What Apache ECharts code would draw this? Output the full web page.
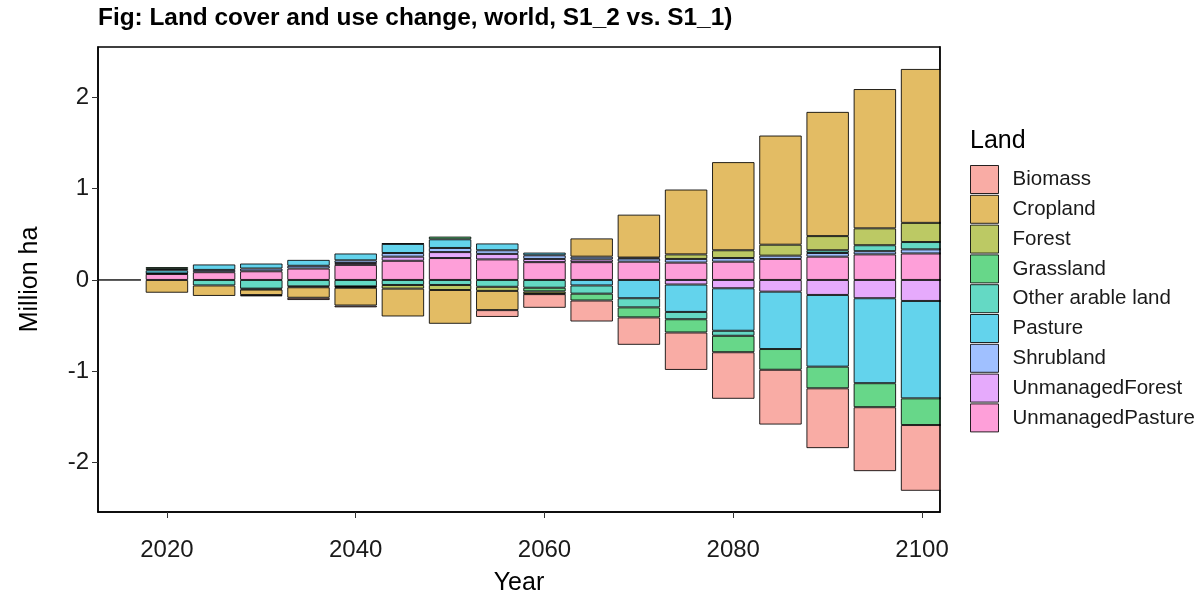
<!DOCTYPE html>
<html>
<head>
<meta charset="utf-8">
<script src="https://cdn.jsdelivr.net/npm/echarts@6/dist/echarts.min.js"></script>
<style>
  html, body { margin: 0; padding: 0; background: #fff; }
  #main { width: 1204px; height: 597px; }
</style>
</head>
<body>
<div id="main"></div>
<script>
// years on the x axis (2015 is an empty bar, drawn as a flat line)
const years = [2015, 2020, 2025, 2030, 2035, 2040, 2045, 2050, 2055, 2060, 2065, 2070, 2075, 2080, 2085, 2090, 2095, 2100]

// change in million ha
const biomass = [0, 0, 0, -0.015, -0.025, -0.02, 0, 0, -0.075, -0.15, -0.23, -0.3, -0.41, -0.51, -0.6, -0.655, -0.7, -0.72]
const cropland = [0, -0.14, -0.115, -0.06, -0.115, -0.195, -0.305, -0.37, -0.21, -0.005, 0.2, 0.47, 0.71, 0.965, 1.195, 1.36, 1.525, 1.685]
const forest = [0, 0, 0, 0, 0, -0.01, -0.04, -0.055, -0.045, -0.025, 0, 0.01, 0.05, 0.085, 0.12, 0.155, 0.185, 0.21]
const grassland = [0, 0.02, 0, -0.01, -0.01, -0.005, 0.005, 0.03, 0, -0.04, -0.075, -0.11, -0.145, -0.18, -0.227, -0.237, -0.263, -0.292]
const otherArable = [0, 0.015, -0.06, -0.095, -0.07, -0.07, -0.055, -0.055, -0.075, -0.085, -0.09, -0.1, -0.08, -0.055, 0, 0.03, 0.065, 0.08]
const pasture = [0, 0.035, 0.06, 0.055, 0.065, 0.075, 0.1, 0.095, 0.075, 0.03, -0.06, -0.2, -0.3, -0.465, -0.628, -0.785, -0.93, -1.066]
const shrubland = [0, 0.005, 0.025, 0.03, 0.03, 0.03, 0.04, 0.045, 0.04, 0.04, 0.03, 0.035, 0.04, 0.04, 0.036, 0.04, 0.035, 0.045]
const unmanagedForest = [0, 0, 0, 0, 0, 0.02, 0.045, 0.065, 0.06, 0.035, 0.03, 0, -0.05, -0.091, -0.128, -0.164, -0.2, -0.23]
const unmanagedPasture = [0, 0.066, 0.085, 0.095, 0.125, 0.165, 0.21, 0.24, 0.225, 0.195, 0.195, 0.2, 0.19, 0.2, 0.23, 0.255, 0.28, 0.29]

const xTicks = [2020, 2040, 2060, 2080, 2100]
const yTicks = [-2, -1, 0, 1, 2]

// legend order (top to bottom)
const landNames = ['Biomass', 'Cropland', 'Forest', 'Grassland', 'Other arable land', 'Pasture', 'Shrubland', 'UnmanagedForest', 'UnmanagedPasture']
const landColors = ['#F9ACA5', '#E3BC64', '#BCC964', '#67D789', '#64D9C4', '#63D3EC', '#A0C0FF', '#E6AAFC', '#FE9FD9']

// stacking order from zero outward
const stackOrder = [
  ['UnmanagedPasture', unmanagedPasture],
  ['UnmanagedForest', unmanagedForest],
  ['Shrubland', shrubland],
  ['Pasture', pasture],
  ['Other arable land', otherArable],
  ['Grassland', grassland],
  ['Forest', forest],
  ['Cropland', cropland],
  ['Biomass', biomass]
]

const series = stackOrder.map(([name, values], idx) => ({
  name: name,
  type: 'bar',
  stack: 'land',
  barWidth: 42.5,
  // value first so that it is the stacked dimension
  encode: { x: 1, y: 0 },
  itemStyle: {
    color: landColors[landNames.indexOf(name)],
    borderColor: 'rgba(0,0,0,0.85)',
    borderWidth: 1
  },
  // empty cells are left out, only the 2015 bar keeps its zero
  data: years.map((y, i) => {
    if (values[i] === 0 && !(y === 2015 && idx === 0)) return [null, y]
    return [values[i], y]
  })
}))

const chart = echarts.init(document.getElementById('main'))
chart.setOption({
  animation: false,
  textStyle: { fontFamily: 'Liberation Sans, Arial, sans-serif' },
  title: [
    {
      text: 'Fig: Land cover and use change, world, S1_2 vs. S1_1)',
      left: 93,
      top: 1,
      textStyle: { fontSize: 24.4, fontWeight: 'bold', color: '#000' }
    },
    {
      text: 'Land',
      left: 965,
      top: 124,
      textStyle: { fontSize: 25, fontWeight: 'normal', color: '#000' }
    }
  ],
  legend: {
    data: landNames,
    orient: 'vertical',
    left: 970,
    top: 165,
    padding: 0,
    itemWidth: 28,
    itemHeight: 28,
    itemGap: 0.8,
    icon: 'rect',
    itemStyle: { borderColor: 'rgba(0,0,0,0.85)', borderWidth: 1 },
    textStyle: { fontSize: 20.5, color: '#1a1a1a', padding: [0, 0, 0, 9] }
  },
  // the last bar is cut at the panel edge, as in the original
  graphic: [
    {
      type: 'rect',
      z: 100,
      shape: { x: 940.75, y: 40, width: 10, height: 480 },
      style: { fill: '#fff' }
    },
    {
      type: 'line',
      z: 101,
      shape: { x1: 940, y1: 46.25, x2: 940, y2: 512.75 },
      style: { stroke: '#000', lineWidth: 1.5 }
    }
  ],
  grid: {
    left: 98,
    right: 264,
    top: 47,
    bottom: 85,
    outerBoundsMode: 'none',
    show: true,
    borderColor: '#000',
    borderWidth: 1.5
  },
  xAxis: {
    type: 'value',
    min: 2012.7,
    max: 2101.9,
    name: 'Year',
    nameLocation: 'middle',
    nameGap: 59,
    nameTextStyle: { fontSize: 25, color: '#000' },
    axisLine: { show: true, onZero: false, lineStyle: { color: '#000', width: 1.5 } },
    axisTick: { show: true, length: 6, customValues: xTicks, lineStyle: { color: '#333' } },
    axisLabel: { customValues: xTicks, fontSize: 24, color: '#1a1a1a', margin: 26, formatter: v => String(v) },
    splitLine: { show: false }
  },
  yAxis: {
    type: 'value',
    min: -2.54,
    max: 2.55,
    name: 'Million ha',
    nameLocation: 'middle',
    nameGap: 55,
    nameTextStyle: { fontSize: 25, color: '#000' },
    axisLine: { show: true, onZero: false, lineStyle: { color: '#000', width: 1.5 } },
    axisTick: { show: true, length: 6, customValues: yTicks, lineStyle: { color: '#333' } },
    axisLabel: { customValues: yTicks, fontSize: 24, color: '#1a1a1a', margin: 9 },
    splitLine: { show: false }
  },
  series: series
})
</script>
</body>
</html>
